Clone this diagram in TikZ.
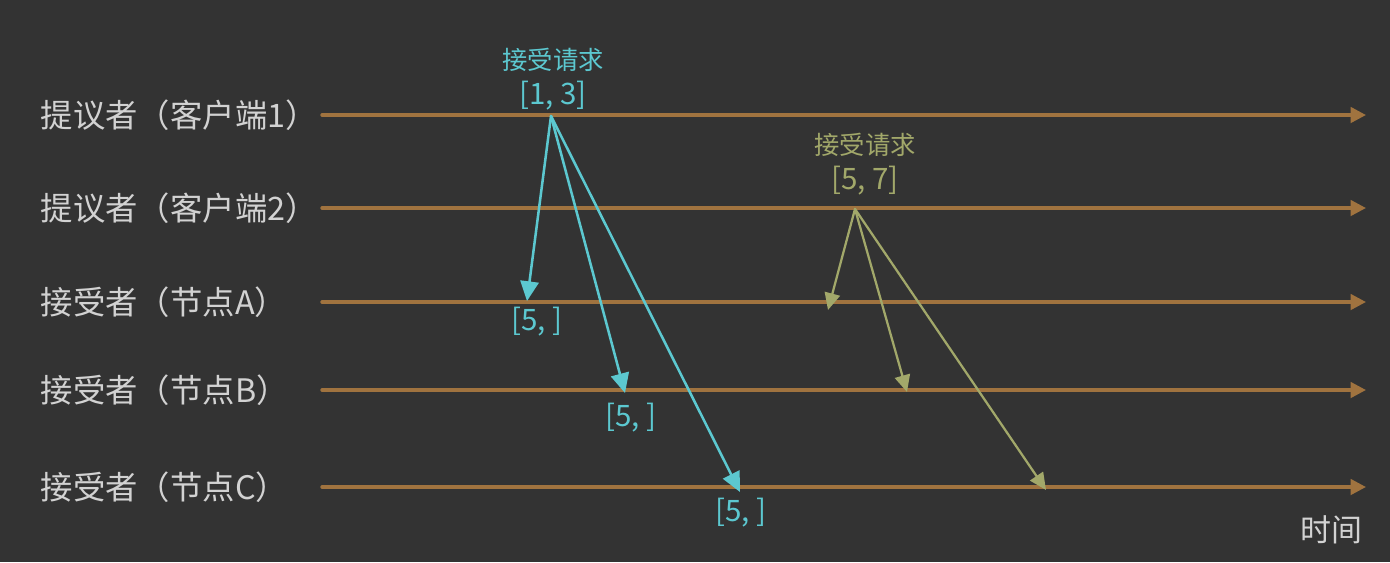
\documentclass[tikz,border=0pt]{standalone}
\usepackage{fontspec}
\newfontfamily\cjk{Noto Sans CJK SC}
\usetikzlibrary{arrows.meta}
\definecolor{nen}{HTML}{333333}
\definecolor{chu}{HTML}{D2D2D2}
\definecolor{cam}{HTML}{A0733F}
\definecolor{xanh}{HTML}{5CC8D0}
\definecolor{reu}{HTML}{A2A86A}
\tikzset{
	truc/.style={draw=cam, line width=2.4pt, -{Triangle[length=11pt,width=11pt]}},
	tenhang/.style={anchor=west, text=chu, font=\cjk\fontsize{23}{23}\selectfont},
	guixanh/.style={draw=xanh, line width=1.8pt, -{Triangle[length=14pt,width=13pt]}},
	guireu/.style={draw=reu, line width=1.6pt, -{Triangle[length=12pt,width=11pt]}},
	nhan/.style={font=\cjk\fontsize{18}{20}\selectfont},
	khoang/.style={font=\cjk\fontsize{21}{22}\selectfont}
}
\begin{document}
\begin{tikzpicture}[x=0.025cm, y=-0.025cm, line join=round, line cap=round]
	\fill[nen] (0,0) rectangle (1390,562);
	\useasboundingbox (0,0) rectangle (1390,562);
	\def\xa{322} % đầu trục
	\def\xb{1366} % cuối trục
	% các hàng thời gian
	\foreach \ten/\y/\chu in {p1/115/提议者（客户端1）, p2/208/提议者（客户端2）, a/302/接受者（节点A）, b/390/接受者（节点B）, c/487/接受者（节点C）}{
		\node[tenhang] (\ten) at (36,\y) {\chu};
		\coordinate (\ten s) at (\xa,\y);
		\coordinate (\ten e) at (\xb,\y);
		\draw[truc] (\ten s)--(\ten e);
	}
	\node[text=chu, font=\cjk\fontsize{22}{22}\selectfont] (tg) at (1331,530) {时间};
	% đề nghị 1
	\coordinate (G1) at (551,116);
	\coordinate (X1) at (527,301);
	\coordinate (X2) at (625,393);
	\coordinate (X3) at (740,492);
	\node[nhan, text=xanh] (yc1) at (553,60) {接受请求};
	\node[khoang, text=xanh] (ts1) at (553,96) {[1, 3]};
	\foreach \diem in {X1,X2,X3} \draw[guixanh] (G1)--(\diem);
	\node[khoang, text=xanh] (k1) at (537,322) {[5, ]};
	\node[khoang, text=xanh] (k2) at (631,418) {[5, ]};
	\node[khoang, text=xanh] (k3) at (741,513) {[5, ]};
	% đề nghị 2
	\coordinate (G2) at (855,209);
	\coordinate (R1) at (828,310);
	\coordinate (R2) at (907,392);
	\coordinate (R3) at (1046,490);
	\node[nhan, text=reu] (yc2) at (865,145) {接受请求};
	\node[khoang, text=reu] (ts2) at (865,181) {[5, 7]};
	\foreach \diem in {R1,R2,R3} \draw[guireu] (G2)--(\diem);
\end{tikzpicture}
\end{document}
